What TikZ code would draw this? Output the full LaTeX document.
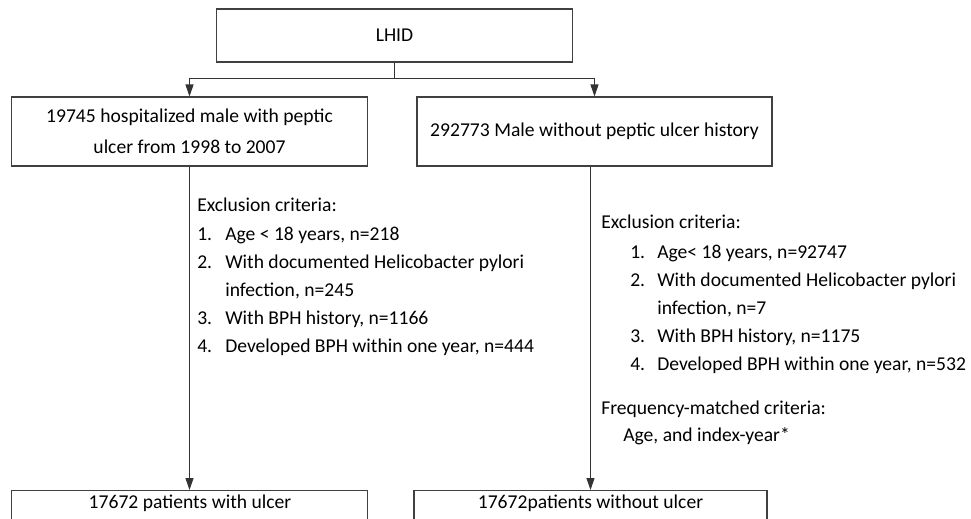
\documentclass[tikz,border=0pt]{standalone}
\usepackage{fontspec}
\setmainfont{Carlito}
\usetikzlibrary{arrows.meta}
\begin{document}
\begin{tikzpicture}[x=0.75pt,y=-0.75pt,
  box/.style={draw=black!75, line width=0.8pt, rectangle, inner sep=0pt,
    font=\fontsize{14.7}{23}\selectfont, align=center},
  txt/.style={font=\fontsize{14.7}{21}\selectfont, inner sep=0pt, anchor=mid west},
  conn/.style={draw=black!80, line width=0.8pt},
  arr/.style={conn, -{Triangle[length=9pt,width=6pt]}}]
\useasboundingbox (0,0) rectangle (971,518);
\clip (0,0) rectangle (971,518);
% boxes
\node[box, minimum width=267pt, minimum height=39.75pt] (lhid) at (394.5,35.5) {LHID};
\node[box, minimum width=267pt, minimum height=51.75pt] (lb) at (189.5,131.5)
  {19745 hospitalized male with peptic\\ulcer from 1998 to 2007};
\node[box, minimum width=266.25pt, minimum height=51.75pt] (rb) at (594.5,131.5)
  {292773 Male without peptic ulcer history};
\node[box, minimum width=267pt, minimum height=45pt, anchor=north] (blb) at (189.5,490) {};
\node[box, minimum width=264.75pt, minimum height=45pt, anchor=north] (brb) at (590.5,490) {};
\node[txt, anchor=center] (blt) at (190,503) {17672 patients with ulcer};
\node[txt, anchor=center] (brt) at (590.5,503) {17672patients without ulcer};
% connectors
\coordinate (sp) at (394.5,78.5);
\draw[conn] (lhid.south) -- (sp);
\draw[arr] (sp) -| (lb.north);
\draw[arr] (sp) -| (rb.north);
\draw[arr] (blb.north |- lb.south) -- (blb.north);
\draw[arr] (brb.north |- rb.south) -- (brb.north);
% left criteria
\node[txt] (lex) at (197,208) {Exclusion criteria:};
\node[txt] (ln1) at (197,237) {1.};
\node[txt] (lt1) at (225,237) {Age < 18 years, n=218};
\node[txt] (ln2) at (197,265) {2.};
\node[txt] (lt2) at (225,265) {With documented Helicobacter pylori};
\node[txt] (lt2b) at (225,293) {infection, n=245};
\node[txt] (ln3) at (197,321) {3.};
\node[txt] (lt3) at (225,321) {With BPH history, n=1166};
\node[txt] (ln4) at (197,349) {4.};
\node[txt] (lt4) at (225,349) {Developed BPH within one year, n=444};
% right criteria
\node[txt] (rex) at (601,225) {Exclusion criteria:};
\node[txt] (rn1) at (630,255) {1.};
\node[txt] (rt1) at (657,255) {Age< 18 years, n=92747};
\node[txt] (rn2) at (630,283) {2.};
\node[txt] (rt2) at (657,283) {With documented Helicobacter pylori};
\node[txt] (rt2b) at (657,311) {infection, n=7};
\node[txt] (rn3) at (630,339) {3.};
\node[txt] (rt3) at (657,339) {With BPH history, n=1175};
\node[txt] (rn4) at (630,367) {4.};
\node[txt] (rt4) at (657,367) {Developed BPH within one year, n=532};
\node[txt] (rfq) at (601,411) {Frequency-matched criteria:};
\node[txt] (rag) at (623,438) {Age, and index-year*};
\end{tikzpicture}
\end{document}
